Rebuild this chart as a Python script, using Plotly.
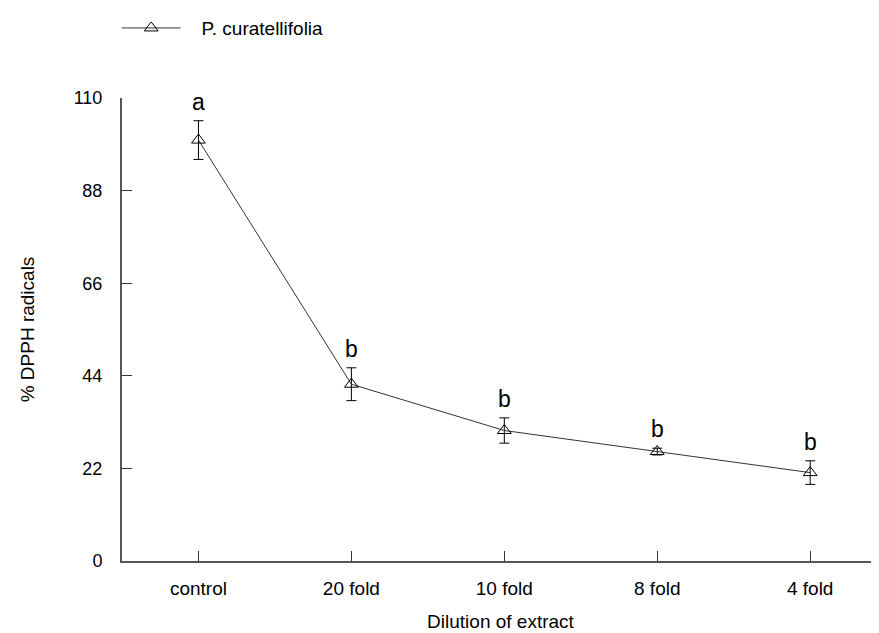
import plotly.graph_objects as go

categories = ["control", "20 fold", "10 fold", "8 fold", "4 fold"]
values = [100.0, 42.0, 31.0, 26.0, 21.0]
errors = [4.6, 3.9, 3.0, 0.8, 2.8]
letters = ["a", "b", "b", "b", "b"]
series_name = "P. curatellifolia"
y_ticks = [0, 22, 44, 66, 88, 110]

x_idx = list(range(len(categories)))
FONT = "Liberation Sans, Arial, sans-serif"

fig = go.Figure()
fig.add_trace(go.Scatter(
    x=x_idx, y=values, mode="lines+markers", name="\u00a0\u00a0\u00a0" + series_name,
    line=dict(color="#333333", width=1),
    marker=dict(symbol="triangle-up-open", size=12, color="black", line=dict(width=1)),
    error_y=dict(type="data", array=errors, visible=True, color="black", thickness=1, width=5),
))

for i, (v, e, t) in enumerate(zip(values, errors, letters)):
    fig.add_annotation(x=i, y=v + e, text=t, showarrow=False, yanchor="bottom",
                       yshift=4, font=dict(size=23, color="black", family=FONT))

fig.update_layout(
    width=871, height=625,
    margin=dict(l=114, r=0, t=90, b=72),
    paper_bgcolor="white", plot_bgcolor="white",
    font=dict(family=FONT, size=19, color="black"),
    showlegend=True,
    legend=dict(x=-0.007, y=1.151, xanchor="left", yanchor="middle", bgcolor="rgba(0,0,0,0)",
                itemwidth=59, font=dict(size=19, family=FONT)),
    xaxis=dict(
        range=[-0.5, 4.45], tickmode="array", tickvals=x_idx, ticktext=categories,
        showline=True, linecolor="#555555", linewidth=2, ticks="inside", ticklen=10,
        tickcolor="#333333", tickwidth=1, showgrid=False, zeroline=False,
        tickfont=dict(size=19), ticklabelstandoff=9,
        title=dict(text="Dilution of extract", standoff=17, font=dict(size=19)),
    ),
    yaxis=dict(
        range=[0, 110], tickmode="array", tickvals=y_ticks, ticktext=[str(t) for t in y_ticks],
        showline=True, linecolor="#555555", linewidth=2, ticks="inside", ticklen=10,
        tickcolor="#333333", tickwidth=1, showgrid=False, zeroline=False,
        tickfont=dict(size=18), ticklabelstandoff=14,
        title=dict(text="% DPPH radicals", standoff=34, font=dict(size=19)),
    ),
)

fig.write_html("out.html")
